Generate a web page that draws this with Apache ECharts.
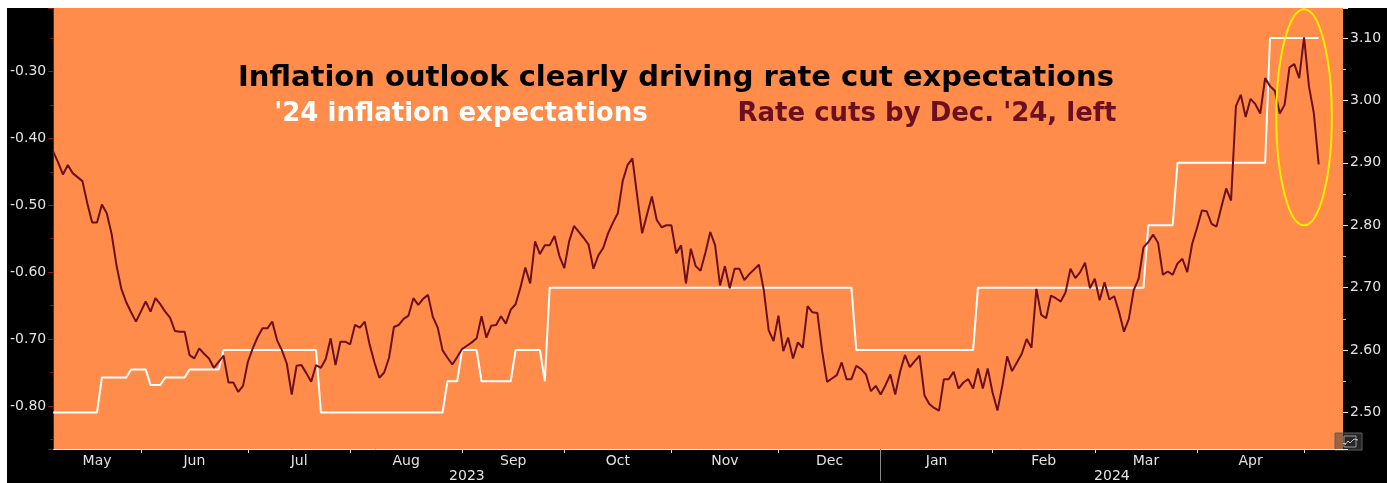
<!DOCTYPE html>
<html>
<head>
<meta charset="utf-8">
<title>Inflation outlook clearly driving rate cut expectations</title>
<script src="https://cdn.jsdelivr.net/npm/echarts@6/dist/echarts.min.js"></script>
<style>
  html, body { margin: 0; padding: 0; background: #fff; }
  #chart { position: absolute; left: 7px; top: 8px; width: 1380px; height: 475px; background: #000; }
</style>
</head>
<body>
<div id="chart"></div>
<script>
// x axis runs over business days
const startDate = '2023-05-08'
const endDate = '2024-05-13'
const monthNames = ['Jan', 'Feb', 'Mar', 'Apr', 'May', 'Jun', 'Jul', 'Aug', 'Sep', 'Oct', 'Nov', 'Dec']

// Rate cuts by Dec. '24 (left axis), one value per business day
const rateCuts = [
  -0.420, -0.436, -0.454, -0.440, -0.452, -0.458, -0.464, -0.497, -0.526, -0.526,
  -0.499, -0.512, -0.543, -0.590, -0.625, -0.645, -0.660, -0.674, -0.659, -0.644,
  -0.659, -0.639, -0.648, -0.659, -0.668, -0.688, -0.689, -0.689, -0.724, -0.729,
  -0.714, -0.722, -0.729, -0.743, -0.734, -0.725, -0.765, -0.765, -0.779, -0.770,
  -0.734, -0.714, -0.697, -0.684, -0.684, -0.674, -0.702, -0.717, -0.737, -0.783,
  -0.740, -0.739, -0.751, -0.764, -0.739, -0.743, -0.730, -0.699, -0.739, -0.704,
  -0.704, -0.708, -0.679, -0.683, -0.674, -0.708, -0.735, -0.758, -0.750, -0.728,
  -0.682, -0.679, -0.670, -0.665, -0.639, -0.649, -0.640, -0.634, -0.667, -0.683,
  -0.717, -0.728, -0.738, -0.727, -0.715, -0.710, -0.705, -0.699, -0.666, -0.698,
  -0.680, -0.679, -0.666, -0.677, -0.656, -0.648, -0.623, -0.593, -0.617, -0.554,
  -0.573, -0.560, -0.560, -0.546, -0.576, -0.594, -0.554, -0.531, -0.540, -0.549,
  -0.559, -0.595, -0.575, -0.564, -0.542, -0.526, -0.512, -0.464, -0.440, -0.430,
  -0.487, -0.542, -0.514, -0.487, -0.522, -0.533, -0.530, -0.530, -0.572, -0.560,
  -0.617, -0.565, -0.591, -0.598, -0.571, -0.540, -0.560, -0.620, -0.591, -0.624,
  -0.595, -0.595, -0.612, -0.603, -0.596, -0.589, -0.627, -0.687, -0.703, -0.665,
  -0.718, -0.698, -0.729, -0.705, -0.713, -0.651, -0.660, -0.661, -0.719, -0.764,
  -0.759, -0.754, -0.735, -0.760, -0.760, -0.740, -0.745, -0.753, -0.778, -0.770,
  -0.783, -0.769, -0.753, -0.783, -0.749, -0.724, -0.742, -0.733, -0.725, -0.784,
  -0.797, -0.803, -0.807, -0.760, -0.760, -0.749, -0.774, -0.765, -0.760, -0.774,
  -0.744, -0.774, -0.744, -0.780, -0.807, -0.770, -0.726, -0.748, -0.735, -0.722,
  -0.700, -0.713, -0.625, -0.664, -0.669, -0.635, -0.639, -0.644, -0.630, -0.595,
  -0.609, -0.600, -0.586, -0.624, -0.610, -0.642, -0.615, -0.641, -0.636, -0.660,
  -0.689, -0.670, -0.627, -0.610, -0.563, -0.555, -0.544, -0.556, -0.604, -0.599,
  -0.604, -0.587, -0.580, -0.600, -0.558, -0.534, -0.508, -0.509, -0.528, -0.532,
  -0.503, -0.475, -0.493, -0.352, -0.335, -0.368, -0.341, -0.349, -0.363, -0.310,
  -0.322, -0.329, -0.363, -0.350, -0.294, -0.289, -0.310, -0.249, -0.322, -0.362,
  -0.439
]

// '24 inflation expectations (right axis), one value per business day
const inflationExp = [
  2.50, 2.50, 2.50, 2.50, 2.50, 2.50, 2.50, 2.50, 2.50, 2.50,
  2.556, 2.556, 2.556, 2.556, 2.556, 2.556, 2.569, 2.569, 2.569, 2.569,
  2.544, 2.544, 2.544, 2.556, 2.556, 2.556, 2.556, 2.556, 2.569, 2.569,
  2.569, 2.569, 2.569, 2.569, 2.569, 2.60, 2.60, 2.60, 2.60, 2.60,
  2.60, 2.60, 2.60, 2.60, 2.60, 2.60, 2.60, 2.60, 2.60, 2.60,
  2.60, 2.60, 2.60, 2.60, 2.60, 2.50, 2.50, 2.50, 2.50, 2.50,
  2.50, 2.50, 2.50, 2.50, 2.50, 2.50, 2.50, 2.50, 2.50, 2.50,
  2.50, 2.50, 2.50, 2.50, 2.50, 2.50, 2.50, 2.50, 2.50, 2.50,
  2.50, 2.55, 2.55, 2.55, 2.60, 2.60, 2.60, 2.60, 2.55, 2.55,
  2.55, 2.55, 2.55, 2.55, 2.55, 2.60, 2.60, 2.60, 2.60, 2.60,
  2.60, 2.55, 2.70, 2.70, 2.70, 2.70, 2.70, 2.70, 2.70, 2.70,
  2.70, 2.70, 2.70, 2.70, 2.70, 2.70, 2.70, 2.70, 2.70, 2.70,
  2.70, 2.70, 2.70, 2.70, 2.70, 2.70, 2.70, 2.70, 2.70, 2.70,
  2.70, 2.70, 2.70, 2.70, 2.70, 2.70, 2.70, 2.70, 2.70, 2.70,
  2.70, 2.70, 2.70, 2.70, 2.70, 2.70, 2.70, 2.70, 2.70, 2.70,
  2.70, 2.70, 2.70, 2.70, 2.70, 2.70, 2.70, 2.70, 2.70, 2.70,
  2.70, 2.70, 2.70, 2.70, 2.70, 2.60, 2.60, 2.60, 2.60, 2.60,
  2.60, 2.60, 2.60, 2.60, 2.60, 2.60, 2.60, 2.60, 2.60, 2.60,
  2.60, 2.60, 2.60, 2.60, 2.60, 2.60, 2.60, 2.60, 2.60, 2.60,
  2.70, 2.70, 2.70, 2.70, 2.70, 2.70, 2.70, 2.70, 2.70, 2.70,
  2.70, 2.70, 2.70, 2.70, 2.70, 2.70, 2.70, 2.70, 2.70, 2.70,
  2.70, 2.70, 2.70, 2.70, 2.70, 2.70, 2.70, 2.70, 2.70, 2.70,
  2.70, 2.70, 2.70, 2.70, 2.70, 2.80, 2.80, 2.80, 2.80, 2.80,
  2.80, 2.90, 2.90, 2.90, 2.90, 2.90, 2.90, 2.90, 2.90, 2.90,
  2.90, 2.90, 2.90, 2.90, 2.90, 2.90, 2.90, 2.90, 2.90, 2.90,
  3.10, 3.10, 3.10, 3.10, 3.10, 3.10, 3.10, 3.10, 3.10, 3.10,
  3.10
]

// axis extents
const leftRange = [-0.8644, -0.2052]
const rightRange = [2.4415, 3.148]

// circled area (business-day index, left-axis value)
const highlight = { fromIdx: 251.3, toIdx: 262.7, top: -0.207, bottom: -0.530 }

const LABEL = '#e2e2e2'
const FONT = '"DejaVu Sans", Verdana, sans-serif'
const RED = '#6b1020'

// business-day categories
const days = []
for (let d = new Date(startDate + 'T00:00:00Z'); d <= new Date(endDate + 'T00:00:00Z'); d.setUTCDate(d.getUTCDate() + 1)) {
  const wd = d.getUTCDay()
  if (wd !== 0 && wd !== 6) days.push(d.toISOString().slice(0, 10))
}

// month / year boundaries
const monthStarts = []
const yearStarts = []
days.forEach((d, i) => {
  if (i === 0 || d.slice(0, 7) !== days[i - 1].slice(0, 7)) monthStarts.push(i)
  if (i === 0 || d.slice(0, 4) !== days[i - 1].slice(0, 4)) yearStarts.push(i)
})
const monthTicks = new Set(monthStarts.slice(1))
const yearTicks = new Set(yearStarts.slice(1))

const monthLabels = {}
for (let k = 0; k < monthStarts.length - 1; k++) {
  const mid = (monthStarts[k] + monthStarts[k + 1]) / 2
  monthLabels[Math.floor(mid)] = {
    text: monthNames[+days[monthStarts[k]].slice(5, 7) - 1],
    half: mid % 1 !== 0,
  }
}
const yearLabels = {}
for (let k = 0; k < yearStarts.length; k++) {
  const end = k + 1 < yearStarts.length ? yearStarts[k + 1] : days.length - 1
  const mid = (yearStarts[k] + end) / 2
  yearLabels[Math.floor(mid)] = { text: days[yearStarts[k]].slice(0, 4), half: mid % 1 !== 0 }
}

const labelText = (lbl) => (lbl.half ? '{h|' + lbl.text + '}' : lbl.text)
const halfRich = { h: { padding: [0, 0, 0, 5], color: LABEL, fontSize: 14, fontFamily: FONT } }

const tenthOnly = (v) => (Math.abs(v * 10 - Math.round(v * 10)) < 1e-6 ? v.toFixed(2) : '')

const chart = echarts.init(document.getElementById('chart'))

const option = {
  animation: false,
  grid: {
    left: 43,
    right: 44,
    top: 0,
    bottom: 32,
    show: true,
    backgroundColor: '#ff8c4b',
    borderWidth: 0,
  },
  xAxis: [
    {
      type: 'category',
      data: days,
      boundaryGap: false,
      axisLine: { show: true, lineStyle: { color: '#f2f2f2', width: 1 } },
      axisTick: {
        show: true,
        interval: (i) => monthTicks.has(i),
        length: 4,
        lineStyle: { color: '#d8d8d8' },
      },
      axisLabel: {
        interval: (i) => i in monthLabels,
        formatter: (v, i) => (monthLabels[i] ? labelText(monthLabels[i]) : ''),
        color: LABEL,
        fontSize: 14,
        fontFamily: FONT,
        margin: 5,
        rich: halfRich,
      },
      splitLine: { show: false },
    },
    {
      type: 'category',
      data: days,
      boundaryGap: false,
      position: 'bottom',
      axisLine: { show: false },
      axisTick: {
        show: true,
        interval: (i) => yearTicks.has(i),
        length: 32,
        lineStyle: { color: '#8a8a8a' },
      },
      axisLabel: {
        interval: (i) => i in yearLabels,
        formatter: (v, i) => (yearLabels[i] ? labelText(yearLabels[i]) : ''),
        color: LABEL,
        fontSize: 14,
        fontFamily: FONT,
        margin: 20,
        rich: halfRich,
      },
      splitLine: { show: false },
    },
  ],
  yAxis: [
    {
      type: 'value',
      position: 'left',
      min: leftRange[0],
      max: leftRange[1],
      splitLine: { show: false },
      axisLine: { show: true, lineStyle: { color: '#7a1416', width: 1 } },
      axisTick: { show: true, length: 5, lineStyle: { color: '#8a1a1a' } },
      minorTick: { show: true, splitNumber: 2, length: 3, lineStyle: { color: '#8a1a1a' } },
      axisLabel: { color: LABEL, fontSize: 14, fontFamily: FONT, margin: 7, formatter: tenthOnly },
    },
    {
      type: 'value',
      position: 'right',
      min: rightRange[0],
      max: rightRange[1],
      splitLine: { show: false },
      axisLine: { show: false },
      axisTick: { show: true, length: 5, lineStyle: { color: '#e8e8e8' } },
      minorTick: { show: true, splitNumber: 2, length: 3, lineStyle: { color: '#bdbdbd' } },
      axisLabel: { color: LABEL, fontSize: 14, fontFamily: FONT, margin: 7, formatter: tenthOnly },
    },
  ],
  series: [
    {
      name: "'24 inflation expectations",
      type: 'line',
      xAxisIndex: 0,
      yAxisIndex: 1,
      data: inflationExp,
      symbol: 'none',
      lineStyle: { color: '#ffffff', width: 2 },
      z: 2,
    },
    {
      name: "Rate cuts by Dec. '24",
      type: 'line',
      xAxisIndex: 0,
      yAxisIndex: 0,
      data: rateCuts,
      symbol: 'none',
      lineStyle: { color: RED, width: 2 },
      z: 3,
    },
  ],
  graphic: [
    {
      type: 'text',
      x: 669,
      y: 70,
      z: 10,
      style: {
        text: 'Inflation outlook clearly driving rate cut expectations',
        fill: '#000',
        font: 'bold 29px ' + FONT,
        align: 'center',
        verticalAlign: 'middle',
      },
    },
    {
      type: 'text',
      x: 454,
      y: 106,
      z: 10,
      style: {
        text: "'24 inflation expectations",
        fill: '#ffffff',
        font: 'bold 26px ' + FONT,
        align: 'center',
        verticalAlign: 'middle',
      },
    },
    {
      type: 'text',
      x: 920,
      y: 106,
      z: 10,
      style: {
        text: "Rate cuts by Dec. '24, left",
        fill: RED,
        font: 'bold 26px ' + FONT,
        align: 'center',
        verticalAlign: 'middle',
      },
    },
    {
      // little chart-type badge in the corner
      type: 'group',
      x: 1328,
      y: 425,
      z: 10,
      children: [
        { type: 'rect', shape: { x: 0, y: 0, width: 27, height: 17 }, style: { fill: 'rgba(70,70,70,0.55)', stroke: '#5e5e5e', lineWidth: 1 } },
        { type: 'rect', shape: { x: 9, y: 3, width: 12, height: 11 }, style: { fill: 'none', stroke: '#9a9a9a', lineWidth: 1 } },
        { type: 'polyline', shape: { points: [[10, 12], [13, 8], [15, 10], [19, 6], [23, 7]] }, style: { fill: 'none', stroke: '#c8c8c8', lineWidth: 1 } },
      ],
    },
  ],
}

chart.setOption(option)

// yellow ellipse around the latest move, placed from data coordinates
const px0 = chart.convertToPixel({ xAxisIndex: 0, yAxisIndex: 0 }, [0, highlight.top])
const px1 = chart.convertToPixel({ xAxisIndex: 0, yAxisIndex: 0 }, [1, highlight.bottom])
const slot = px1[0] - px0[0]
const ex0 = px0[0] + highlight.fromIdx * slot
const ex1 = px0[0] + highlight.toIdx * slot
chart.setOption({
  graphic: [
    {
      id: 'highlight',
      type: 'ellipse',
      z: 9,
      shape: {
        cx: (ex0 + ex1) / 2,
        cy: (px0[1] + px1[1]) / 2,
        rx: (ex1 - ex0) / 2,
        ry: (px1[1] - px0[1]) / 2,
      },
      style: { fill: 'none', stroke: '#ffee00', lineWidth: 2 },
    },
  ],
})

window.addEventListener('resize', () => chart.resize())
</script>
</body>
</html>
